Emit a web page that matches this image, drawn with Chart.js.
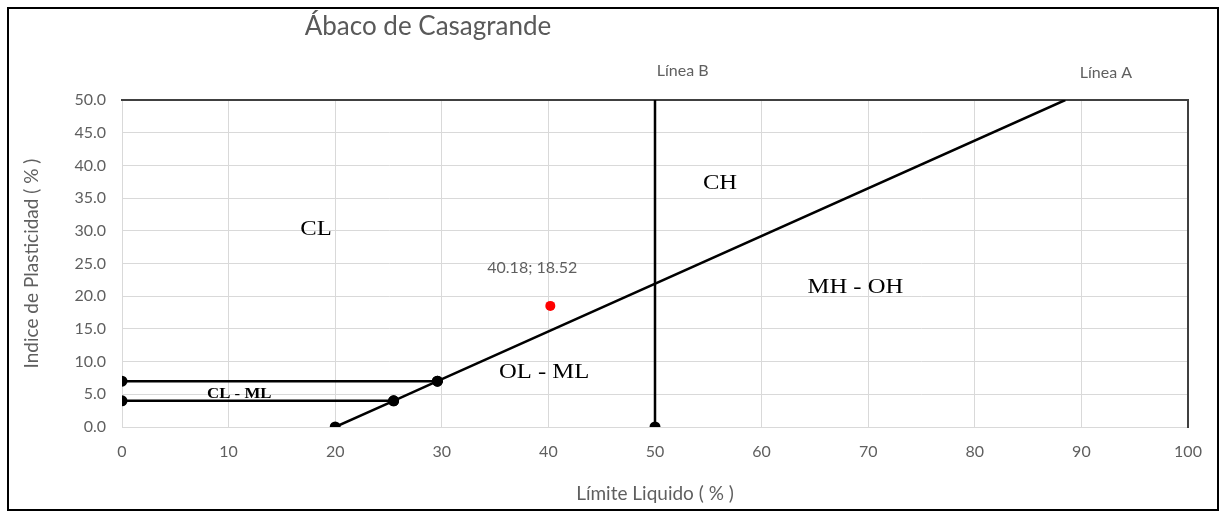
<!DOCTYPE html>
<html>
<head>
<meta charset="utf-8">
<script src="https://cdn.jsdelivr.net/npm/chart.js@4"></script>
<style>
  html, body { margin: 0; padding: 0; background: #ffffff; }
  #wrap { width: 1226px; height: 517px; }
</style>
</head>
<body>
<div id="wrap"><canvas id="c" width="1226" height="517"></canvas></div>
<script>
// Casagrande plasticity chart: liquid limit (x) vs plasticity index (y)
const lineA_LL = [20, 25.48, 29.59, 88.49];
const lineA_IP = [0, 4, 7, 50];
const lineB_LL = [50, 50];
const lineB_IP = [0, 50];
const clmlLow_LL = [0, 25.48];
const clmlLow_IP = [4, 4];
const clmlHigh_LL = [0, 29.59];
const clmlHigh_IP = [7, 7];
const sample_LL = [40.18];
const sample_IP = [18.52];

const xTicks = [0, 10, 20, 30, 40, 50, 60, 70, 80, 90, 100];
const yTicks = [0, 5, 10, 15, 20, 25, 30, 35, 40, 45, 50];

// zone labels: [text, LL, IP]
const zoneLabels = [
  ['CL', 18.2, 30.3],
  ['CH', 56.1, 37.3],
  ['MH - OH', 68.8, 21.3],
  ['OL - ML', 39.6, 8.4]
];
const lineLabels = [
  ['Línea B', 52.6, 54.4],
  ['Línea A', 92.3, 54.1]
];

const toPts = (xs, ys) => xs.map((x, i) => ({ x, y: ys[i] }));

const UI_FONT = 'Lato, "Open Sans", sans-serif';
const GREY_TXT = '#5f5f5f';

const annotations = {
  id: 'annotations',
  afterDatasetsDraw(chart) {
    const { ctx, scales: { x, y } } = chart;
    ctx.save();
    ctx.textAlign = 'center';
    ctx.textBaseline = 'middle';

    const stretched = (t, px, py) => {
      ctx.save(); ctx.translate(px, py); ctx.scale(1.12, 1);
      ctx.fillText(t, 0, 0); ctx.restore();
    };

    // zone names (serif)
    ctx.fillStyle = '#000';
    ctx.font = '22px "Liberation Serif", "Times New Roman", serif';
    zoneLabels.forEach(([t, lx, ly]) => stretched(t, x.getPixelForValue(lx), y.getPixelForValue(ly)));
    ctx.font = 'bold 15px "Liberation Serif", "Times New Roman", serif';
    stretched('CL - ML', x.getPixelForValue(11.0), y.getPixelForValue(5.0));

    // line names
    ctx.fillStyle = GREY_TXT;
    ctx.font = '16px ' + UI_FONT;
    lineLabels.forEach(([t, lx, ly]) => {
      ctx.fillText(t, x.getPixelForValue(lx), y.getPixelForValue(ly));
    });

    // sample point value
    ctx.font = '16px ' + UI_FONT;
    ctx.fillText(sample_LL[0].toFixed(2) + '; ' + sample_IP[0].toFixed(2),
      x.getPixelForValue(sample_LL[0]) - 18, y.getPixelForValue(sample_IP[0] + 5.8));

    // chart title
    ctx.fillStyle = '#595959';
    ctx.font = '26px ' + UI_FONT;
    ctx.fillText('Ábaco de Casagrande', 428, 27);

    // outer frame
    ctx.strokeStyle = '#000';
    ctx.lineWidth = 2;
    ctx.strokeRect(8, 8, 1210, 502);
    ctx.restore();
  }
};

const black = '#000000';
const lineDs = (label, xs, ys, radii) => ({
  label, data: toPts(xs, ys), showLine: true,
  borderColor: black, backgroundColor: black, borderWidth: 2.5,
  pointRadius: radii, pointHoverRadius: radii, pointBorderWidth: 0
});

new Chart(document.getElementById('c'), {
  type: 'scatter',
  data: {
    datasets: [
      lineDs('Línea A', lineA_LL, lineA_IP, [5.5, 5.5, 5.5, 0]),
      lineDs('Línea B', lineB_LL, lineB_IP, [5.5, 0]),
      lineDs('CL-ML 4', clmlLow_LL, clmlLow_IP, [5.5, 5.5]),
      lineDs('CL-ML 7', clmlHigh_LL, clmlHigh_IP, [5.5, 5.5]),
      {
        label: 'Muestra', data: toPts(sample_LL, sample_IP),
        backgroundColor: '#ff0000', borderColor: '#ff0000',
        pointRadius: 5, pointBorderWidth: 0
      }
    ]
  },
  options: {
    responsive: false,
    devicePixelRatio: 1,
    animation: false,
    layout: { padding: { top: 100, right: 38, bottom: 0, left: 0 } },
    plugins: { legend: { display: false }, tooltip: { enabled: false }, title: { display: false } },
    scales: {
      x: {
        type: 'linear', position: 'bottom', min: 0, max: 100,
        afterBuildTicks: s => { s.ticks = xTicks.map(v => ({ value: v })); },
        afterFit: s => { s.height = 90; },
        grid: { color: '#d9d9d9', lineWidth: 1, drawTicks: false },
        border: { color: '#d9d9d9', width: 1 },
        ticks: { color: GREY_TXT, font: { family: UI_FONT, size: 16 }, padding: 15,
                 callback: v => String(v) },
        title: { display: true, text: 'Límite Liquido ( % )', color: GREY_TXT,
                 font: { family: UI_FONT, size: 19 }, padding: { bottom: 12 } }
      },
      y: {
        type: 'linear', position: 'left', min: 0, max: 50,
        afterBuildTicks: s => { s.ticks = yTicks.map(v => ({ value: v })); },
        afterFit: s => { s.width = 122; },
        grid: { color: '#d9d9d9', lineWidth: 1, drawTicks: false },
        border: { color: '#d9d9d9', width: 1 },
        ticks: { color: GREY_TXT, font: { family: UI_FONT, size: 16 }, padding: 16,
                 callback: v => v.toFixed(1) },
        title: { display: true, text: 'Indice de Plasticidad ( % )', color: GREY_TXT,
                 font: { family: UI_FONT, size: 19 }, padding: { top: 20 } }
      },
      x2: {
        type: 'linear', position: 'top', min: 0, max: 100,
        afterFit: s => { s.height = 0; },
        grid: { display: false, drawTicks: false },
        border: { color: '#404040', width: 2 },
        ticks: { display: false }
      },
      y2: {
        type: 'linear', position: 'right', min: 0, max: 50,
        afterFit: s => { s.width = 0; },
        grid: { display: false, drawTicks: false },
        border: { color: '#404040', width: 2 },
        ticks: { display: false }
      }
    }
  },
  plugins: [annotations]
});
</script>
</body>
</html>
